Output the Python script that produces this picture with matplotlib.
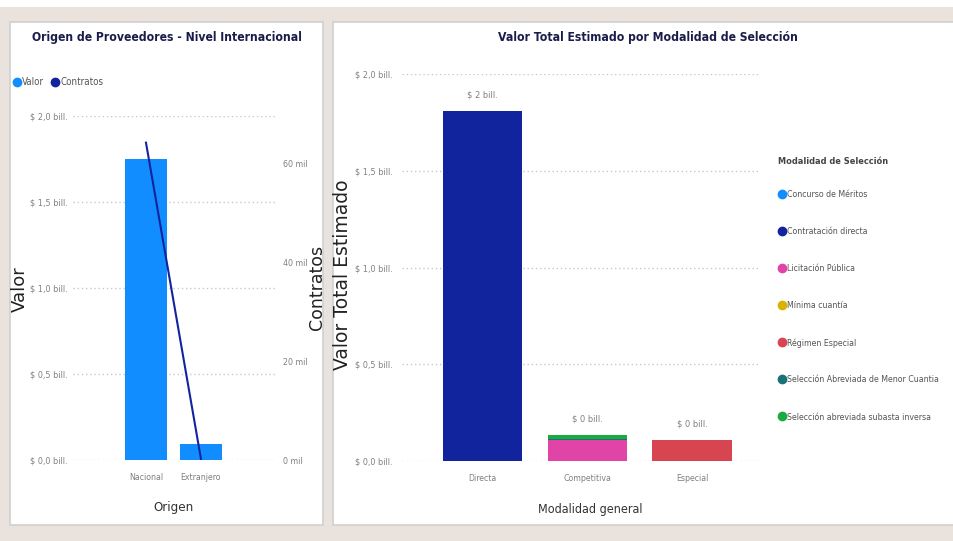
import matplotlib.pyplot as plt
from matplotlib.patches import Rectangle
from matplotlib.lines import Line2D
from matplotlib.ticker import FuncFormatter
from matplotlib import font_manager

# narrow font if one is installed
names = {f.name for f in font_manager.fontManager.ttflist}
cond = [f for f in font_manager.fontManager.ttflist
        if f.name == 'DejaVu Sans' and 'ondensed' in f.fname]
if 'Liberation Sans Narrow' in names:
    plt.rcParams['font.family'] = ['Liberation Sans Narrow', 'DejaVu Sans']
    k = 1.0
elif cond:
    plt.rcParams['font.family'] = ['DejaVu Sans']
    plt.rcParams['font.stretch'] = 'condensed'
    k = 1.0
else:
    plt.rcParams['font.family'] = ['Liberation Sans', 'DejaVu Sans']
    k = 0.9

# --- data: left chart (Origen de Proveedores)
origen = ['Nacional', 'Extranjero']
valor_bill = [1.75, 0.093]        # billones de pesos
contratos_mil = [64.3, 0.2]       # miles de contratos

# --- data: right chart (Valor por modalidad)
modalidad_general = ['Directa', 'Competitiva', 'Especial']
modalidades = ['Concurso de Méritos', 'Contratación directa', 'Licitación Pública',
               'Mínima cuantía', 'Régimen Especial',
               'Selección Abreviada de Menor Cuantia', 'Selección abreviada subasta inversa']
colores = ['#118DFF', '#12239E', '#E044A7', '#D9B300', '#D64550', '#197278', '#1AAB40']
valores_modalidad = {
    'Concurso de Méritos':                  [0.0, 0.0, 0.0],
    'Contratación directa':                 [1.81, 0.0, 0.0],
    'Licitación Pública':                   [0.0, 0.108, 0.0],
    'Mínima cuantía':                       [0.0, 0.0, 0.0],
    'Régimen Especial':                     [0.0, 0.0, 0.108],
    'Selección Abreviada de Menor Cuantia': [0.0, 0.008, 0.0],
    'Selección abreviada subasta inversa':  [0.0, 0.018, 0.0],
}

W, H = 954, 541
fig = plt.figure(figsize=(W / 100, H / 100), dpi=100)
fig.patch.set_facecolor('#E9E2DD')


def px(x0, y0, x1, y1):
    # pixel box (top-left origin) -> figure fraction [l, b, w, h]
    return [x0 / W, 1 - y1 / H, (x1 - x0) / W, (y1 - y0) / H]


# white strip on top and white panels
fig.patches.append(Rectangle((0, 1 - 7 / H), 1, 7 / H, transform=fig.transFigure,
                             facecolor='white', edgecolor='none', zorder=-5))
for box in [(10, 22, 323, 525), (333, 22, 960, 525)]:
    l, b, w, h = px(*box)
    fig.patches.append(Rectangle((l, b), w, h, transform=fig.transFigure,
                                 facecolor='white', edgecolor='#D0D0D0', lw=1.2, zorder=-5))

title_color = '#1A1C4A'
tick_color = '#808080'
label_color = '#333333'
grid_kw = dict(color='#C8C8C8', linestyle=(0, (1, 2)), linewidth=1)


def bill_fmt(v, pos):
    return '$ ' + f'{v:.1f}'.replace('.', ',') + ' bill.'


def style(ax):
    for s in ax.spines.values():
        s.set_visible(False)
    ax.tick_params(length=0, colors=tick_color, labelsize=6.5 * k)
    ax.set_facecolor('none')


# ---------------- left chart
ax1 = fig.add_axes(px(73, 116, 276, 460))
style(ax1)
xs = range(len(origen))
ax1.bar(xs, valor_bill, width=0.76, color='#118DFF', zorder=2)
ax1.set_xlim(-1.327, 2.364)
ax1.set_ylim(0, 2.0)
ax1.set_yticks([0, 0.5, 1.0, 1.5, 2.0])
ax1.yaxis.set_major_formatter(FuncFormatter(bill_fmt))
ax1.set_xticks(list(xs))
ax1.set_xticklabels(origen)
ax1.tick_params(axis='y', pad=4)
ax1.tick_params(axis='x', pad=9.5, labelsize=6.3 * k)
ax1.grid(axis='y', **grid_kw)
ax1.set_axisbelow(True)

ax1b = ax1.twinx()
style(ax1b)
ax1b.plot(list(xs), contratos_mil, color='#12239E', lw=1.5, zorder=3)
ax1b.set_ylim(0, 69.7)
ax1b.set_yticks([0, 20, 40, 60])
ax1b.yaxis.set_major_formatter(FuncFormatter(lambda v, p: f'{v:.0f} mil'))
ax1b.tick_params(axis='y', pad=5, labelsize=6.3 * k)

fig.text(167 / W, 1 - 38 / H, 'Origen de Proveedores - Nivel Internacional',
         ha='center', va='center', fontsize=8.7 * k, color=title_color, fontweight='bold')
fig.text(174 / W, 1 - 508 / H, 'Origen', ha='center', va='center',
         fontsize=9.5 * k, color=label_color)
fig.text(20 / W, 1 - 289 / H, 'Valor', rotation=90, ha='center', va='center',
         fontsize=13, color='#222222', family='DejaVu Sans', stretch='normal')
fig.text(317 / W, 1 - 287 / H, 'Contratos', rotation=90, ha='center', va='center',
         fontsize=12.5, color='#222222', family='DejaVu Sans', stretch='normal')

leg1 = [Line2D([], [], marker='o', ls='none', color=c, markersize=6)
        for c in ['#118DFF', '#12239E']]
fig.legend(leg1, ['Valor', 'Contratos'], loc='center left',
           bbox_to_anchor=(12 / W, 1 - 82 / H), ncol=2, frameon=False, fontsize=7 * k,
           handletextpad=0.05, columnspacing=0.6, labelcolor='#555555', handlelength=1,
           borderpad=0, borderaxespad=0)

# ---------------- right chart
ax2 = fig.add_axes(px(402, 74, 760, 461))
style(ax2)
xs2 = list(range(len(modalidad_general)))
bottom = [0.0] * len(xs2)
for name, col in zip(modalidades, colores):
    vals = valores_modalidad[name]
    ax2.bar(xs2, vals, bottom=bottom, width=0.755, color=col, zorder=2)
    bottom = [b + v for b, v in zip(bottom, vals)]
for x, tot in zip(xs2, bottom):
    ax2.annotate(f'$ {round(tot):.0f} bill.', (x, tot), xytext=(0, 8),
                 textcoords='offset points', ha='center', va='bottom',
                 fontsize=6.7 * k, color=tick_color)
ax2.set_xlim(-0.768, 2.649)
ax2.set_ylim(0, 2.0)
ax2.set_yticks([0, 0.5, 1.0, 1.5, 2.0])
ax2.yaxis.set_major_formatter(FuncFormatter(bill_fmt))
ax2.set_xticks(xs2)
ax2.set_xticklabels(modalidad_general)
ax2.tick_params(axis='y', pad=7)
ax2.tick_params(axis='x', pad=9.5, labelsize=6.3 * k)
ax2.grid(axis='y', **grid_kw)
ax2.set_axisbelow(True)

fig.text(648 / W, 1 - 38 / H, 'Valor Total Estimado por Modalidad de Selección',
         ha='center', va='center', fontsize=8.7 * k, color=title_color, fontweight='bold')
fig.text(590 / W, 1 - 510 / H, 'Modalidad general', ha='center', va='center',
         fontsize=9 * k, color=label_color)
fig.text(343 / W, 1 - 275 / H, 'Valor Total Estimado', rotation=90, ha='center',
         va='center', fontsize=13.5, color='#222222', family='DejaVu Sans', stretch='normal')

leg2 = [Line2D([], [], marker='o', ls='none', color=c, markersize=6) for c in colores]
fig.text(778 / W, 1 - 162 / H, 'Modalidad de Selección', ha='left', va='center',
         fontsize=6.6 * k, fontweight='bold', color='#444444')
fig.legend(leg2, modalidades, loc='upper left', bbox_to_anchor=(778 / W, 1 - 190 / H),
           frameon=False, fontsize=6.3 * k, handletextpad=0.0, labelspacing=3.2,
           handlelength=1, labelcolor='#555555', borderpad=0, borderaxespad=0)

fig.savefig('out.png', dpi=100, facecolor=fig.get_facecolor())
